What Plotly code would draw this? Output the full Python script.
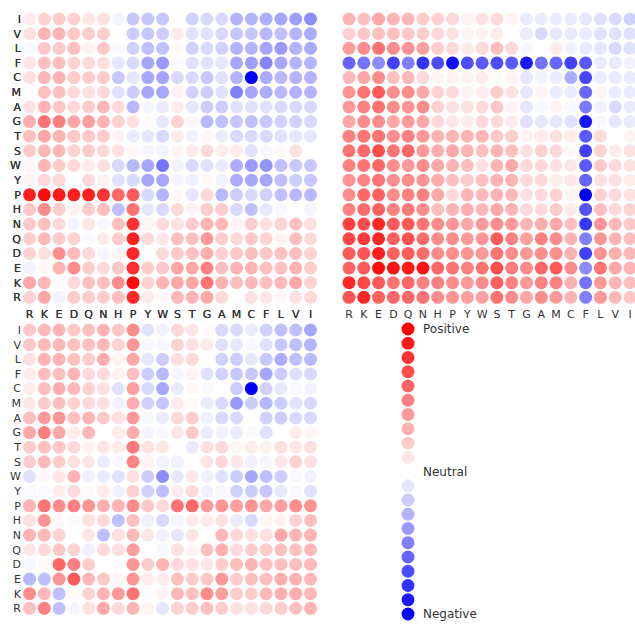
import plotly.graph_objects as go

# Amino acids in column order; rows run in the reverse order (top to bottom).
residues = ["R", "K", "E", "D", "Q", "N", "H", "P", "Y", "W",
            "S", "T", "G", "A", "M", "C", "F", "L", "V", "I"]
row_residues = residues[::-1]

# Pair scores, one list per row (I at top ... R at bottom), columns R..I.
scores_a = [
    [0.08, 0.18, 0.2, 0.18, 0.1, 0.12, -0.04, -0.22, -0.22, -0.22, 0, -0.18, -0.15, -0.15, -0.3, -0.3, -0.32, -0.35, -0.38, -0.45],
    [0.12, 0.3, 0.3, 0.22, 0.2, 0.2, 0, -0.2, -0.22, -0.2, 0.08, -0.12, -0.12, -0.15, -0.22, -0.22, -0.28, -0.25, -0.3, -0.33],
    [-0.03, 0.22, 0.2, 0.25, 0.05, 0.22, -0.02, -0.18, -0.25, -0.24, 0.02, -0.18, -0.15, -0.18, -0.3, -0.3, -0.35, -0.4, -0.3, -0.33],
    [0.1, 0.25, 0.25, 0.18, 0.15, 0.12, -0.1, -0.15, -0.35, -0.4, -0.02, -0.12, -0.12, -0.1, -0.35, -0.38, -0.48, -0.35, -0.3, -0.3],
    [0.12, 0.28, 0.3, 0.2, 0.2, 0.2, -0.22, -0.1, -0.35, -0.36, -0.15, -0.15, -0.22, -0.12, -0.3, -1.0, -0.33, -0.28, -0.3, -0.3],
    [0, 0.25, 0.25, 0.15, 0.12, 0.15, -0.12, -0.2, -0.35, -0.35, 0.05, -0.18, -0.2, -0.12, -0.5, -0.35, -0.33, -0.28, -0.3, -0.3],
    [0.12, 0.3, 0.22, 0.15, 0.2, 0.28, 0.15, -0.28, -0.04, -0.08, 0.08, -0.1, -0.2, -0.2, -0.12, -0.12, -0.12, -0.15, -0.15, -0.15],
    [0.32, 0.55, 0.5, 0.35, 0.38, 0.3, 0.18, 0.12, 0.02, -0.1, 0.18, 0.03, -0.28, -0.25, -0.22, -0.25, -0.22, -0.18, -0.18, -0.15],
    [0.25, 0.35, 0.3, 0.22, 0.22, 0.2, 0.05, -0.08, -0.1, -0.15, 0.08, -0.05, 0.03, -0.08, -0.15, -0.15, -0.15, -0.12, -0.1, -0.1],
    [0.22, 0.28, 0.28, 0.18, 0.2, 0.15, 0.12, 0.03, -0.04, -0.04, 0.05, 0.08, 0.15, 0.08, 0.08, -0.12, -0.03, 0.02, 0.12, 0],
    [0.03, 0.3, 0.2, 0.15, 0.08, 0.12, -0.15, -0.28, -0.35, -0.55, -0.05, -0.15, -0.12, -0.08, -0.32, -0.4, -0.42, -0.25, -0.22, -0.22],
    [0.05, 0.15, 0.15, 0, 0.15, 0.05, -0.12, -0.15, -0.35, -0.35, -0.04, -0.06, 0.02, -0.05, -0.32, -0.35, -0.35, -0.25, -0.2, -0.22],
    [0.88, 0.95, 0.9, 0.88, 0.88, 0.8, 0.6, 0.65, -0.15, -0.3, 0.03, -0.1, 0.15, -0.28, -0.2, -0.15, -0.18, -0.25, -0.28, -0.28],
    [0.22, 0.45, 0.2, 0.05, 0.2, 0.25, -0.25, 0.55, -0.1, -0.15, 0.15, 0.05, 0.2, 0.2, -0.15, -0.25, -0.1, -0.03, 0, -0.04],
    [0.22, 0.25, 0.15, -0.04, 0.1, -0.03, 0.25, 0.8, 0.05, 0.15, 0.12, 0.2, 0.3, 0.28, 0.05, 0.2, 0.12, 0.18, 0.25, 0.12],
    [0.2, 0.28, 0.2, 0.18, -0.02, 0.08, 0.2, 0.88, 0.15, 0.1, 0.25, 0.25, 0.4, 0.2, 0.15, 0.22, 0.18, 0.05, 0.25, 0.15],
    [0.18, 0.12, 0.45, 0.28, 0.15, -0.04, 0.05, 0.85, 0, 0.15, 0.22, 0.25, 0.32, 0.18, 0.22, 0.25, 0.22, 0.25, 0.25, 0.18],
    [-0.05, 0.03, 0.3, 0.45, 0.2, 0.15, 0.22, 0.82, 0.2, 0.22, 0.35, 0.35, 0.5, 0.25, 0.3, 0.3, 0.25, 0.25, 0.3, 0.2],
    [0.35, 0.28, 0.02, 0.15, 0.25, 0.25, 0.45, 0.95, 0.18, 0.3, 0.35, 0.35, 0.55, 0.3, 0.25, 0.28, 0.25, 0.28, 0.35, 0.18],
    [0.18, 0.35, -0.05, 0.2, 0.2, 0.2, 0.25, 0.85, 0.08, 0.03, 0.28, 0.3, 0.35, 0.15, 0, 0.12, 0.1, 0.03, 0.12, 0.15],
]

scores_b = [
    [0.3, 0.25, 0.35, 0.3, 0.28, 0.2, 0.18, 0.15, 0.05, 0.12, 0.15, 0.05, -0.08, -0.08, -0.08, -0.08, -0.1, -0.12, -0.15, -0.18],
    [0.18, 0.22, 0.25, 0.25, 0.22, 0.2, 0.15, 0.12, 0.05, 0.05, 0.08, 0, -0.08, -0.15, -0.1, -0.08, -0.08, -0.12, -0.12, -0.12],
    [0.38, 0.45, 0.55, 0.45, 0.42, 0.38, 0.2, 0.15, 0.08, 0.15, 0.25, 0.15, -0.03, 0, 0.08, -0.05, -0.08, -0.1, -0.15, -0.12],
    [-0.6, -0.55, -0.45, -0.75, -0.5, -0.8, -0.7, -0.95, -0.7, -0.65, -0.7, -0.65, -0.9, -0.55, -0.6, -0.75, -0.65, -0.08, -0.08, -0.05],
    [0.28, 0.35, 0.45, 0.25, 0.28, 0.15, 0.05, 0.05, 0.05, 0.08, 0.02, 0.05, -0.1, -0.05, -0.08, -0.32, -0.72, -0.08, -0.08, -0.08],
    [0.42, 0.55, 0.65, 0.45, 0.45, 0.35, 0.18, 0.15, 0.05, 0.08, 0.2, 0.12, -0.1, 0.05, -0.08, -0.08, -0.6, 0.05, -0.08, -0.08],
    [0.4, 0.5, 0.55, 0.45, 0.42, 0.45, 0.18, 0.12, 0.12, 0.15, 0.22, 0.05, -0.1, -0.03, 0.05, -0.03, -0.52, -0.05, -0.15, -0.08],
    [0.35, 0.45, 0.45, 0.35, 0.4, 0.35, 0.15, 0.1, 0.08, 0.15, 0.15, 0.08, -0.12, -0.1, -0.1, -0.12, -0.92, -0.03, -0.1, -0.08],
    [0.5, 0.55, 0.55, 0.45, 0.5, 0.4, 0.3, 0.3, 0.3, 0.3, 0.22, 0.2, 0.05, 0.08, 0.12, 0.08, -0.65, 0.15, 0, 0.05],
    [0.55, 0.6, 0.7, 0.55, 0.6, 0.4, 0.32, 0.35, 0.3, 0.25, 0.3, 0.25, 0.12, 0.18, 0.15, 0.03, -0.75, 0.18, 0.08, 0.12],
    [0.5, 0.55, 0.6, 0.45, 0.4, 0.45, 0.35, 0.3, 0.25, 0.12, 0.3, 0.35, 0.15, 0.15, 0.12, 0.1, -0.65, 0.22, 0.15, 0.12],
    [0.42, 0.48, 0.55, 0.45, 0.45, 0.42, 0.32, 0.25, 0.2, 0.25, 0.3, 0.3, 0.15, 0.15, 0.08, 0.1, -0.6, 0.12, 0.12, 0.08],
    [0.45, 0.6, 0.62, 0.45, 0.5, 0.5, 0.35, 0.15, 0.3, 0.28, 0.3, 0.28, 0.12, 0.15, 0.18, 0.05, -1.0, 0.18, 0.15, 0.12],
    [0.5, 0.58, 0.62, 0.5, 0.52, 0.45, 0.25, 0.3, 0.32, 0.28, 0.35, 0.3, 0.15, 0.15, 0.2, 0.08, -0.68, 0.25, 0.15, 0.18],
    [0.75, 0.7, 0.85, 0.65, 0.65, 0.55, 0.45, 0.42, 0.35, 0.4, 0.45, 0.4, 0.3, 0.32, 0.35, 0.25, -0.78, 0.42, 0.28, 0.22],
    [0.72, 0.78, 0.85, 0.62, 0.68, 0.58, 0.45, 0.45, 0.4, 0.42, 0.65, 0.5, 0.38, 0.5, 0.45, 0.3, -0.5, 0.42, 0.3, 0.25],
    [0.65, 0.68, 0.88, 0.62, 0.65, 0.58, 0.45, 0.45, 0.42, 0.4, 0.55, 0.45, 0.4, 0.45, 0.45, 0.3, -0.75, 0.42, 0.32, 0.28],
    [0.6, 0.65, 0.95, 0.92, 0.9, 0.92, 0.6, 0.55, 0.5, 0.55, 0.7, 0.52, 0.45, 0.6, 0.65, 0.45, -0.45, 0.55, 0.35, 0.3],
    [0.85, 0.72, 0.65, 0.55, 0.6, 0.5, 0.5, 0.45, 0.4, 0.45, 0.62, 0.5, 0.4, 0.5, 0.5, 0.3, -0.55, 0.4, 0.3, 0.25],
    [0.68, 0.85, 0.62, 0.6, 0.6, 0.55, 0.45, 0.42, 0.38, 0.38, 0.55, 0.45, 0.35, 0.45, 0.4, 0.3, -0.5, 0.4, 0.28, 0.22],
]

scores_c = [
    [0.22, 0.28, 0.3, 0.22, 0.25, 0.3, 0.22, 0.45, -0.12, -0.06, 0.15, 0.1, 0.02, -0.15, -0.15, -0.08, -0.18, -0.25, -0.25, -0.35],
    [0.22, 0.28, 0.28, 0.25, 0.25, 0.28, 0.18, 0.42, -0.03, -0.03, 0.18, 0.12, 0.08, -0.12, -0.1, -0.03, -0.12, -0.22, -0.25, -0.3],
    [0.12, 0.3, 0.3, 0.25, 0.2, 0.32, 0.05, 0.35, -0.1, -0.2, 0.12, 0.15, 0, -0.18, -0.2, -0.1, -0.22, -0.32, -0.25, -0.28],
    [0.08, 0.25, 0.25, 0.3, 0.15, 0.15, 0.05, 0.25, -0.2, -0.28, -0.04, 0.05, -0.12, -0.18, -0.22, -0.22, -0.35, -0.2, -0.12, -0.15],
    [0.08, 0.25, 0.32, 0.28, 0.18, 0.12, -0.12, 0.38, -0.15, -0.35, -0.08, 0.03, -0.02, 0, -0.2, -1.0, -0.18, -0.1, -0.03, -0.05],
    [0.1, 0.2, 0.25, 0.18, 0.15, 0.12, -0.06, 0.32, -0.18, -0.22, 0.08, 0.02, -0.08, -0.15, -0.4, -0.2, -0.28, -0.2, -0.12, -0.15],
    [0.25, 0.4, 0.42, 0.25, 0.3, 0.22, 0.12, 0.4, -0.03, -0.08, 0.15, 0.2, -0.06, -0.15, -0.15, 0, -0.18, -0.2, -0.15, -0.15],
    [0.35, 0.5, 0.35, 0.08, 0.28, 0, 0.08, 0.32, -0.04, -0.03, 0.1, 0.22, -0.08, -0.05, -0.08, -0.02, -0.12, 0, 0.08, 0.04],
    [0.2, 0.25, 0.22, 0.15, 0.05, 0.1, 0.08, 0.52, 0.12, 0.1, 0, -0.08, 0.12, 0.15, 0.04, 0.08, 0.06, 0.12, 0.1, 0.12],
    [0.2, 0.28, 0.2, 0.12, 0.1, -0.08, -0.03, 0.48, 0.05, -0.06, -0.06, 0, 0.1, 0.15, 0.1, -0.06, -0.04, 0.1, 0.18, 0.12],
    [-0.12, 0.03, 0.1, 0.3, -0.06, -0.08, -0.12, 0.12, -0.2, -0.45, -0.1, 0.1, -0.06, -0.12, -0.2, -0.35, -0.25, -0.2, -0.03, -0.06],
    [-0.02, -0.02, 0.08, 0.15, 0.02, 0.08, -0.06, 0.18, -0.18, -0.25, 0.08, 0.15, -0.06, -0.03, -0.18, -0.2, -0.22, -0.1, -0.03, -0.12],
    [0.3, 0.55, 0.45, 0.5, 0.42, 0.32, 0.3, 0.45, 0.22, 0.15, 0.55, 0.6, 0.4, 0.42, 0.38, 0.42, 0.35, 0.38, 0.45, 0.42],
    [0.12, 0.42, 0.03, -0.02, 0.12, 0.15, -0.25, 0.25, -0.06, -0.15, -0.04, 0.08, 0.08, 0.12, -0.08, -0.15, 0.03, 0.05, 0.18, 0.25],
    [0.3, 0.28, 0.18, 0, 0.1, -0.25, 0.12, 0.28, 0.1, -0.06, -0.1, 0.1, 0, 0.28, 0.15, 0.12, 0.12, 0.35, 0.3, 0.3],
    [0.1, 0.15, 0.22, 0.18, -0.06, 0.15, 0.12, 0.38, 0, -0.03, 0.12, 0.05, 0.25, 0.32, 0.15, 0.2, 0.2, 0.25, 0.25, 0.28],
    [-0.03, 0.02, 0.6, 0.5, 0.2, 0, -0.02, 0.42, 0.2, 0.3, 0.15, 0.12, 0.1, 0.2, 0.25, 0.3, 0.25, 0.25, 0.25, 0.28],
    [-0.28, -0.25, 0.42, 0.65, 0.28, 0.22, 0.03, 0.42, 0.08, 0.08, 0.25, 0.2, 0.22, 0.4, 0.2, 0.25, 0.25, 0.32, 0.3, 0.28],
    [0.45, 0.28, -0.25, 0.02, 0.18, 0.3, 0.4, 0.55, -0.02, 0.05, 0.28, 0.25, 0.45, 0.38, 0.2, 0.2, 0.28, 0.32, 0.32, 0.28],
    [0.25, 0.5, -0.25, -0.04, 0.12, 0.35, 0.15, 0.3, 0.05, -0.1, 0.18, 0.2, 0.25, 0.2, 0.12, 0.12, 0.15, 0.2, 0.25, 0.3],
]

# Key: 21 levels from +1 down to -1
legend_levels = [round(1.0 - 0.1 * i, 1) for i in range(21)]
legend_labels = {1.0: "Positive", 0.0: "Neutral", -1.0: "Negative"}

W, H = 635, 630
STEP_X = 14.79   # pixels between columns
STEP_Y = 14.65   # pixels between rows
FONT = "DejaVu Sans, Verdana, sans-serif"
TEXT_COLOR = "#333"
COLORSCALE = [[0.0, "rgb(0,0,255)"], [0.5, "rgb(255,255,255)"], [1.0, "rgb(255,0,0)"]]


def x_axis_cfg(c0, lo, hi):
    return dict(domain=[lo / W, hi / W],
                range=[(lo - c0) / STEP_X, (hi - c0) / STEP_X],
                tickmode="array", tickvals=list(range(20)), ticktext=residues,
                showgrid=False, zeroline=False, showline=False, ticks="",
                fixedrange=True,
                tickfont=dict(family=FONT, size=11, color=TEXT_COLOR))


def y_axis_cfg(r0, top, bottom):
    return dict(domain=[1 - bottom / H, 1 - top / H],
                range=[(bottom - r0) / STEP_Y, (top - r0) / STEP_Y],
                tickmode="array", tickvals=list(range(20)), ticktext=row_residues,
                showgrid=False, zeroline=False, showline=False, ticks="",
                fixedrange=True,
                tickfont=dict(family=FONT, size=11, color=TEXT_COLOR))


fig = go.Figure()

panels = [
    (scores_a, "x", "y", 29.5, 19.0, (22, 318), (12, 306)),
    (scores_b, "x2", "y2", 349.0, 19.0, (341, 635), (12, 306)),
    (scores_c, "x3", "y3", 29.5, 330.0, (22, 318), (323, 617)),
]

layout_axes = {}
for idx, (mat, xa, ya, c0, r0, (xl, xh), (yt, yb)) in enumerate(panels):
    xs, ys, vs = [], [], []
    for r, row in enumerate(mat):
        for c, v in enumerate(row):
            xs.append(c)
            ys.append(r)
            vs.append(v)
    fig.add_trace(go.Scatter(
        x=xs, y=ys, mode="markers", xaxis=xa, yaxis=ya, showlegend=False,
        hoverinfo="skip", cliponaxis=False,
        marker=dict(size=13, color=vs, colorscale=COLORSCALE, cmin=-1, cmax=1,
                    line=dict(width=0)),
    ))
    suffix = "" if idx == 0 else str(idx + 1)
    layout_axes["xaxis" + suffix] = x_axis_cfg(c0, xl, xh)
    layout_axes["yaxis" + suffix] = y_axis_cfg(r0, yt, yb)

# Colour key
key_top, key_step = 329.0, 14.25
fig.add_trace(go.Scatter(
    x=[0] * len(legend_levels), y=list(range(len(legend_levels))),
    mode="markers", xaxis="x4", yaxis="y4", showlegend=False, hoverinfo="skip",
    cliponaxis=False,
    marker=dict(size=13, color=legend_levels, colorscale=COLORSCALE,
                cmin=-1, cmax=1, line=dict(width=0)),
))
layout_axes["xaxis4"] = dict(domain=[398 / W, 418 / W], range=[-0.5, 0.5],
                             visible=False, fixedrange=True)
k_lo, k_hi = 320, 623
layout_axes["yaxis4"] = dict(domain=[1 - k_hi / H, 1 - k_lo / H],
                             range=[(k_hi - key_top) / key_step, (k_lo - key_top) / key_step],
                             visible=False, fixedrange=True)

annotations = []
for i, lvl in enumerate(legend_levels):
    if lvl in legend_labels:
        annotations.append(dict(
            x=0, y=i, xref="x4", yref="y4", xanchor="left", yanchor="middle",
            xshift=13, text=legend_labels[lvl], showarrow=False,
            font=dict(family=FONT, size=12, color=TEXT_COLOR),
        ))

fig.update_layout(
    width=W, height=H, margin=dict(l=0, r=0, t=0, b=0),
    paper_bgcolor="white", plot_bgcolor="white",
    annotations=annotations, **layout_axes,
)

fig.write_html("out.html")
